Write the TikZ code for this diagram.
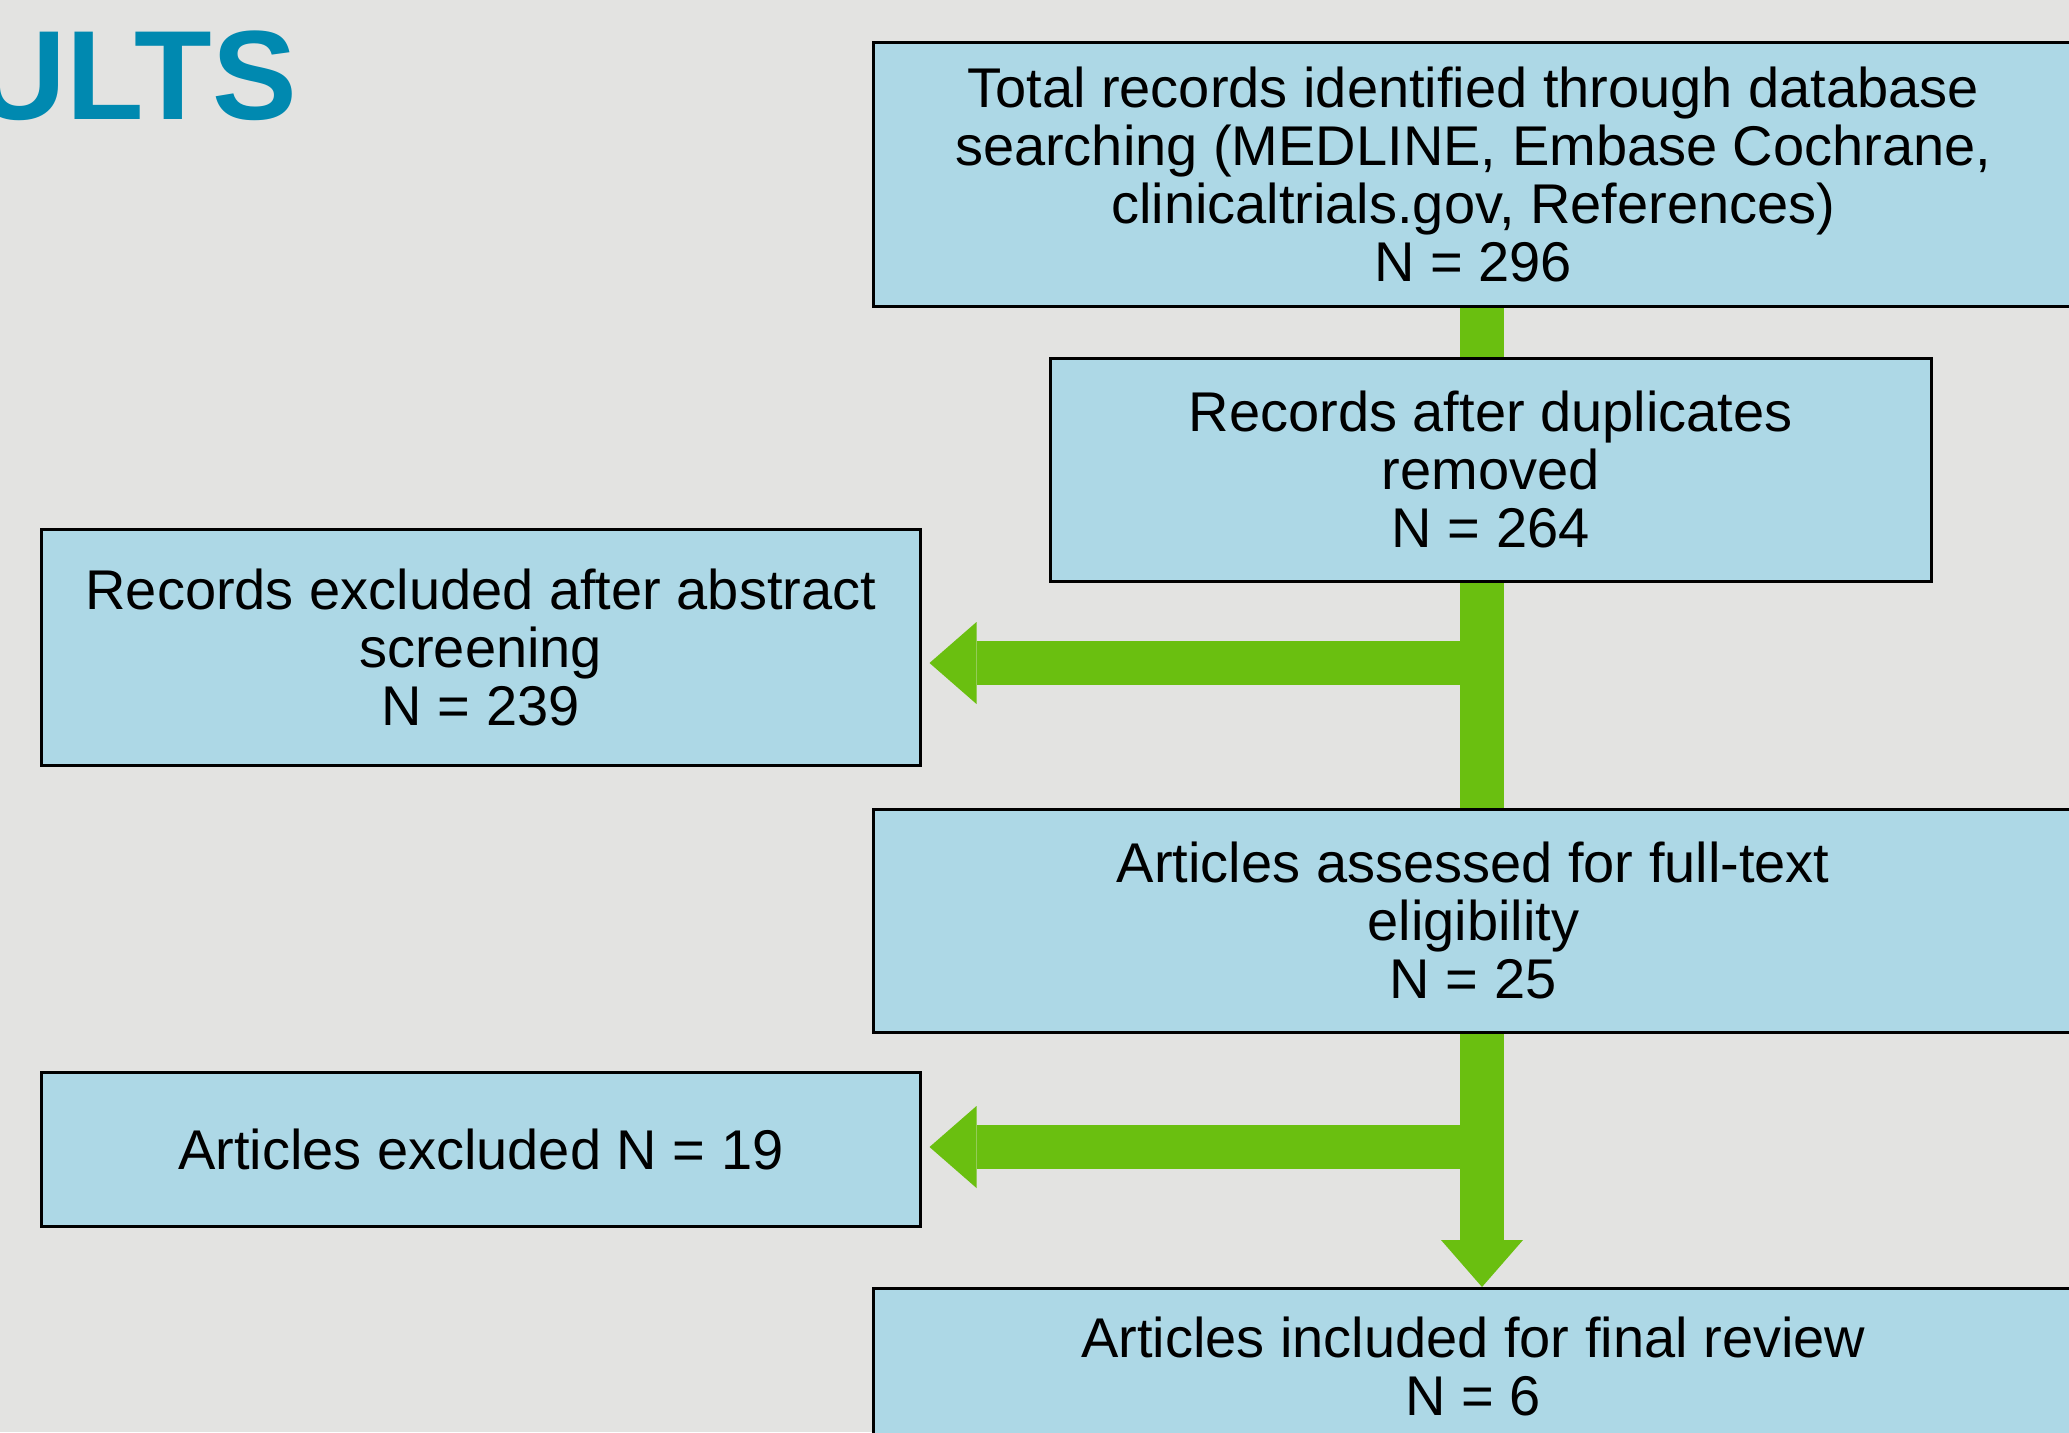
\documentclass[tikz,border=0pt]{standalone}
\usepackage{fontspec}
\setmainfont{Liberation Sans}
\usetikzlibrary{arrows.meta,backgrounds}
\definecolor{bggray}{HTML}{E3E3E1}
\definecolor{boxblue}{HTML}{ADD8E6}
\definecolor{flowgreen}{HTML}{6ABF10}
\definecolor{titleblue}{HTML}{0089B0}
\begin{document}
\begin{tikzpicture}[x=1pt, y=-1pt,
    box/.style={draw=black, line width=2.5pt, fill=boxblue, align=center, inner sep=0pt, font=\fontsize{56}{58}\selectfont},
    flow/.style={draw=flowgreen, line width=44pt},
    flowarrow/.style={flow, -{Triangle[length=47pt, width=82pt, line width=0pt]}}]
\useasboundingbox (0,0) rectangle (2069,1432);
\node[anchor=base east, inner sep=0pt, text=titleblue, font=\fontsize{127}{127}\selectfont\bfseries] (title) at (297,119) {ULTS};
\node[box, anchor=north west, minimum width=1200pt, minimum height=264pt] (total) at (872,41) {Total records identified through database\\ searching (MEDLINE, Embase Cochrane,\\ clinicaltrials.gov, References)\\ N = 296};
\node[box, anchor=north west, minimum width=881pt, minimum height=223pt] (dedup) at (1049,357) {Records after duplicates\\ removed\\ N = 264};
\node[box, anchor=north west, minimum width=879pt, minimum height=236pt] (abstractout) at (40,528) {Records excluded after abstract\\ screening\\ N = 239};
\node[box, anchor=north west, minimum width=1200pt, minimum height=223pt] (assessed) at (872,808) {Articles assessed for full-text\\ eligibility\\ N = 25};
\node[box, anchor=north west, minimum width=879pt, minimum height=154pt] (fulltextout) at (40,1071) {Articles excluded N = 19};
\node[box, anchor=north west, minimum width=1200pt, minimum height=156pt] (included) at (872,1287) {Articles included for final review\\ N = 6};
\coordinate (spine) at (1482,0);
\coordinate (fork1) at (1482,663);
\coordinate (fork2) at (1482,1147);
\begin{scope}[on background layer]
\fill[bggray] (0,0) rectangle (2069,1432);
\draw[flow] (total.south -| spine) -- (dedup.north -| spine);
\draw[flow] (dedup.south -| spine) -- (assessed.north -| spine);
\draw[flowarrow, shorten >=8pt] (fork1) -- (abstractout.east |- fork1);
\draw[flowarrow] (assessed.south -| spine) -- (included.north -| spine);
\draw[flowarrow, shorten >=8pt] (fork2) -- (fulltextout.east |- fork2);
\end{scope}
\end{tikzpicture}
\end{document}
